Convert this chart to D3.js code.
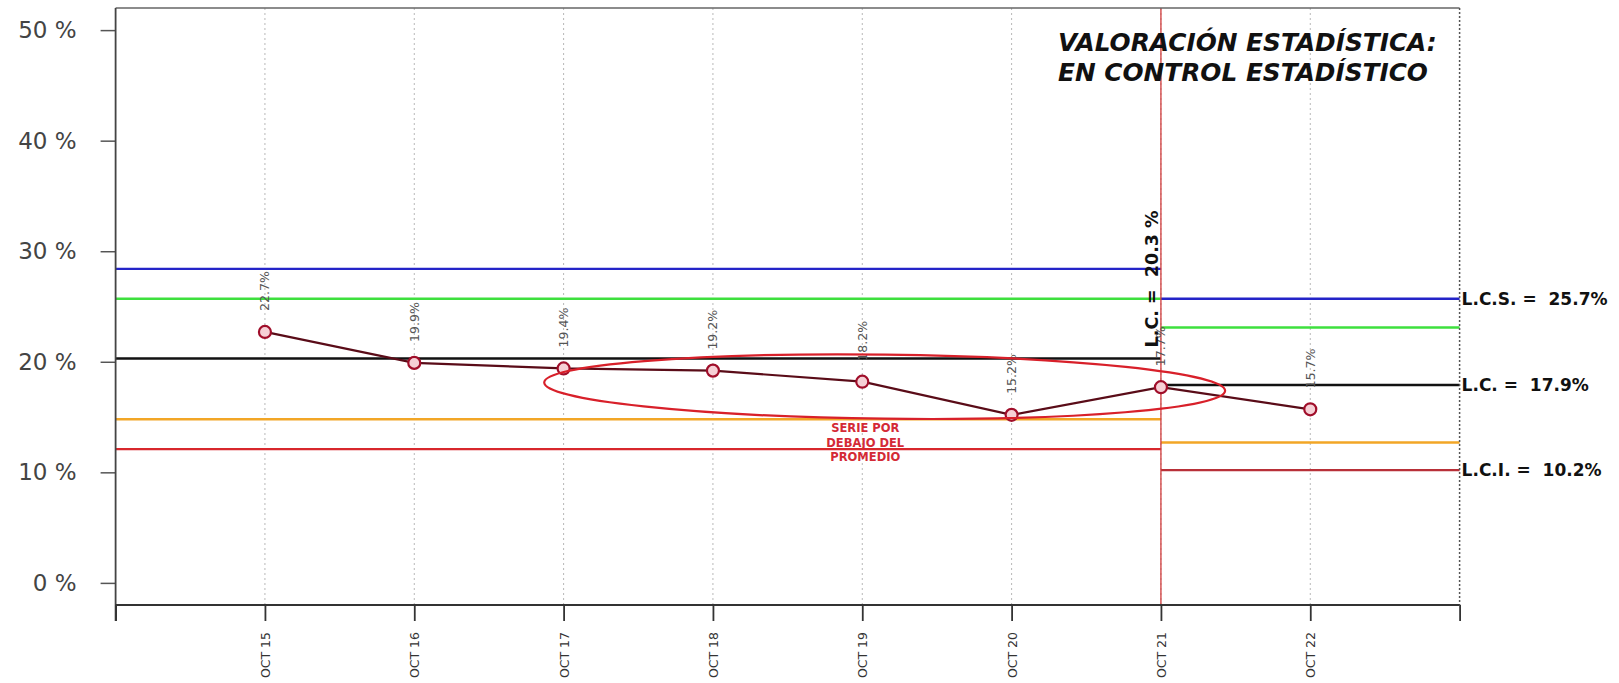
<!DOCTYPE html>
<html>
<head>
<meta charset="utf-8">
<script src="https://cdn.jsdelivr.net/npm/d3@7/dist/d3.min.js"></script>
<style>
  html, body { margin: 0; padding: 0; background: #fff; }
  svg { display: block; font-family: "DejaVu Sans", sans-serif; }
</style>
</head>
<body>
<svg id="chart" width="1619" height="683"></svg>
<script>
// ---- data ----
const categories = ["OCT 15", "OCT 16", "OCT 17", "OCT 18", "OCT 19", "OCT 20", "OCT 21", "OCT 22"];
const values = [22.7, 19.9, 19.4, 19.2, 18.2, 15.2, 17.7, 15.7];
const yTicks = [0, 10, 20, 30, 40, 50];

// control limits, phase 1 (OCT 15 - OCT 21) and phase 2 (OCT 21 - end)
const phase1Limits = [28.4, 25.7, 20.3, 14.8, 12.1]; // UCL, +2s, CL, -2s, LCL
const phase2Limits = [25.7, 23.1, 17.9, 12.7, 10.2];
const limitColors = ["#2424c8", "#3ee03e", "#111111", "#f2a626", "#d8272c"];
const phase1CL = 20.3;
const rightLabels = [
  { text: "L.C.S. =  25.7%", value: 25.7 },
  { text: "L.C. =  17.9%", value: 17.9 },
  { text: "L.C.I. =  10.2%", value: 10.2 }
];
const statusLines = ["VALORACIÓN ESTADÍSTICA:", "EN CONTROL ESTADÍSTICO"];
const noteLines = ["SERIE POR", "DEBAJO DEL", "PROMEDIO"];
// ellipse annotation in data units (x index, %)
const ellipseNote = { cx: 5.15, cy: 17.75, rx: 2.28, ry: 2.9 };

// ---- scales ----
const svg = d3.select("#chart");
const x = d3.scaleLinear().domain([0, 9]).range([115.6, 1459.6]);
const y = d3.scaleLinear().domain([-2, 52]).range([605, 8]);
const xi = i => x(i + 1);
const breakIdx = 7; // OCT 21

// ---- vertical grid ----
svg.append("g").selectAll("line").data(categories).join("line")
  .attr("x1", (d, i) => xi(i)).attr("x2", (d, i) => xi(i))
  .attr("y1", y(52)).attr("y2", y(-2))
  .attr("stroke", "#b8b8b8").attr("stroke-width", 1).attr("stroke-dasharray", "2,3");

// ---- limit lines ----
svg.append("g").selectAll("line").data(phase1Limits).join("line")
  .attr("x1", x(0)).attr("x2", x(breakIdx))
  .attr("y1", d => y(d)).attr("y2", d => y(d))
  .attr("stroke", (d, i) => limitColors[i]).attr("stroke-width", 2.4);
svg.append("g").selectAll("line").data(phase2Limits).join("line")
  .attr("x1", x(breakIdx)).attr("x2", x(9))
  .attr("y1", d => y(d)).attr("y2", d => y(d))
  .attr("stroke", (d, i) => i === 4 ? "#b83038" : limitColors[i]).attr("stroke-width", 2.4);

// phase change line
svg.append("line")
  .attr("x1", x(breakIdx)).attr("x2", x(breakIdx))
  .attr("y1", y(52)).attr("y2", y(-2))
  .attr("stroke", "#d03a3a").attr("stroke-width", 1.3);

// ---- point labels ----
svg.append("g").selectAll("text").data(values).join("text")
  .attr("transform", (d, i) => `translate(${xi(i)},${y(d) - 21}) rotate(-90)`)
  .attr("text-anchor", "start").attr("dominant-baseline", "central")
  .attr("font-size", 12.5).attr("fill", "#555")
  .text(d => d.toFixed(1) + "%");

// ---- series ----
const line = d3.line().x((d, i) => xi(i)).y(d => y(d));
svg.append("path").datum(values)
  .attr("d", line).attr("fill", "none")
  .attr("stroke", "#5a0c18").attr("stroke-width", 2.2);
svg.append("g").selectAll("circle").data(values).join("circle")
  .attr("cx", (d, i) => xi(i)).attr("cy", d => y(d)).attr("r", 6)
  .attr("fill", "#f6d0d6").attr("stroke", "#a00e2a").attr("stroke-width", 2.2);

// ---- ellipse annotation ----
const ecx = x(ellipseNote.cx), ecy = y(ellipseNote.cy);
svg.append("ellipse")
  .attr("cx", ecx).attr("cy", ecy)
  .attr("rx", x(ellipseNote.rx) - x(0)).attr("ry", y(0) - y(ellipseNote.ry))
  .attr("transform", `rotate(0.7,${ecx},${ecy})`)
  .attr("fill", "none").attr("stroke", "#d8202a").attr("stroke-width", 2.2);
svg.append("g").selectAll("text").data(noteLines).join("text")
  .attr("x", x(5.02)).attr("y", (d, i) => 432 + i * 14.5)
  .attr("text-anchor", "middle").attr("font-size", 11.5).attr("font-weight", "bold")
  .attr("fill", "#d42a36").text(d => d);

// ---- CL label phase 1 ----
svg.append("text")
  .attr("transform", `translate(${x(breakIdx) - 3},${y(21.3)}) rotate(-90)`)
  .attr("text-anchor", "start")
  .attr("font-size", 17.5).attr("font-weight", "bold").attr("fill", "#111")
  .attr("xml:space", "preserve")
  .text("L.C. =  " + phase1CL.toFixed(1) + " %");

// ---- status text ----
svg.append("g").selectAll("text").data(statusLines).join("text")
  .attr("x", 1058).attr("y", (d, i) => 51 + i * 30)
  .attr("font-size", 24.8).attr("font-weight", "bold").attr("font-style", "italic")
  .attr("fill", "#111").text(d => d);

// ---- right labels ----
svg.append("g").selectAll("text").data(rightLabels).join("text")
  .attr("x", x(9) + 2).attr("y", d => y(d.value))
  .attr("dominant-baseline", "central")
  .attr("font-size", 17).attr("font-weight", "bold").attr("fill", "#111")
  .attr("xml:space", "preserve")
  .text(d => d.text);

// ---- frame ----
svg.append("line").attr("x1", x(0)).attr("x2", x(9)).attr("y1", y(52)).attr("y2", y(52))
  .attr("stroke", "#666").attr("stroke-width", 1.5);
svg.append("line").attr("x1", x(9)).attr("x2", x(9)).attr("y1", y(52)).attr("y2", y(-2))
  .attr("stroke", "#555").attr("stroke-width", 1.5).attr("stroke-dasharray", "2,2");

// ---- y axis ----
const yAxis = d3.axisLeft(y).tickValues(yTicks).tickSize(15).tickPadding(24)
  .tickFormat(d => d + " %");
const gy = svg.append("g").attr("transform", `translate(${x(0)},0)`).call(yAxis);
gy.select(".domain").remove();
gy.selectAll(".tick line").attr("stroke", "#555").attr("stroke-width", 1.5);
gy.selectAll(".tick text").attr("font-size", 23).attr("fill", "#444")
  .attr("font-family", "DejaVu Sans");
svg.append("line").attr("x1", x(0)).attr("x2", x(0)).attr("y1", y(52)).attr("y2", y(-2) + 16)
  .attr("stroke", "#444").attr("stroke-width", 1.8);

// ---- x axis ----
const xAxis = d3.axisBottom(x).tickValues(d3.range(0, 10)).tickSize(16)
  .tickFormat(d => (d >= 1 && d <= 8) ? categories[d - 1] : "");
const gx = svg.append("g").attr("transform", `translate(0,${y(-2)})`).call(xAxis);
gx.select(".domain").attr("stroke", "#333").attr("stroke-width", 2)
  .attr("d", `M${x(0)},0H${x(9)}`);
gx.selectAll(".tick line").attr("stroke", "#333").attr("stroke-width", 1.8);
gx.selectAll(".tick text")
  .attr("transform", "translate(0,27) rotate(-90)")
  .attr("x", 0).attr("y", 0).attr("dy", null)
  .attr("text-anchor", "end").attr("dominant-baseline", "central")
  .attr("font-size", 12.5).attr("fill", "#333").attr("font-family", "DejaVu Sans");
</script>
</body>
</html>
